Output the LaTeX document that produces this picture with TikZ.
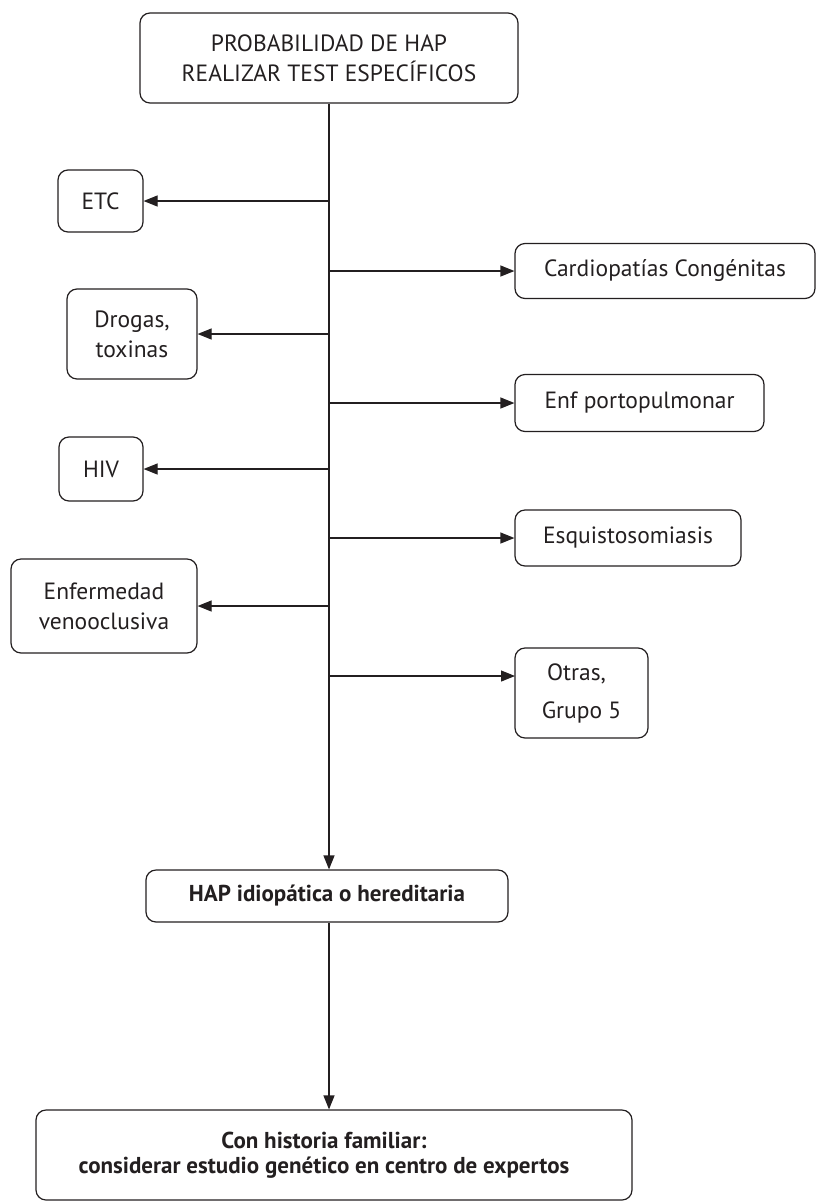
\documentclass[tikz,border=0pt]{standalone}
\usepackage{fontspec}
\setmainfont{PT Sans}
\usetikzlibrary{arrows.meta}
\definecolor{ink}{HTML}{231F20}
\begin{document}
\begin{tikzpicture}[x=1pt,y=-1pt,
  box/.style={draw=ink, line width=1.2pt, rounded corners=10pt, inner sep=0pt,
    text=ink, align=center, font=\fontsize{23.5}{30}\selectfont},
  boldbox/.style={box, font=\bfseries\fontsize{23}{25}\selectfont},
  link/.style={draw=ink, line width=1.2pt},
  arr/.style={link, -{Triangle[length=14pt,width=11pt]}}]
\useasboundingbox (0,0) rectangle (818,1203);

% header
\node[box, minimum width=378pt, minimum height=90pt] (top) at (329,58)
  {PROBABILIDAD DE HAP\\REALIZAR TEST ESPECÍFICOS};

% causes on the left
\node[box, minimum width=85pt, minimum height=62pt] (etc) at (100.5,201) {ETC};
\node[box, minimum width=130pt, minimum height=90pt] (drogas) at (132,334) {Drogas,\\toxinas};
\node[box, minimum width=84pt, minimum height=64pt] (hiv) at (101,469) {HIV};
\node[box, minimum width=186pt, minimum height=94pt] (veno) at (104,606) {Enfermedad\\venooclusiva};

% causes on the right
\node[box, minimum width=300pt, minimum height=55pt] (cardio) at (665,271) {Cardiopatías Congénitas};
\node[box, minimum width=249pt, minimum height=57pt] (porto) at (639.5,403) {Enf portopulmonar};
\node[box, minimum width=226pt, minimum height=56pt] (esq) at (628,538) {Esquistosomiasis};
\node[box, minimum width=133pt, minimum height=90pt] (otras) at (581.5,693) {\hspace*{-10pt}Otras,\\[8pt]Grupo 5};
\coordinate (otrasin) at (515,676);

% outcome
\node[boldbox, minimum width=362pt, minimum height=52pt] (idio) at (327,896) {HAP idiopática o hereditaria};
\node[boldbox, minimum width=596pt, minimum height=90pt] (final) at (334,1155)
  {Con historia familiar:\hspace*{20pt}\\considerar estudio genético en centro de expertos\hspace*{20pt}};

% main trunk and its branches
\draw[arr] (top.south) -- (top.south |- idio.north);
\draw[arr] (top.south |- etc.east) -- (etc.east);
\draw[arr] (top.south |- cardio.west) -- (cardio.west);
\draw[arr] (top.south |- drogas.east) -- (drogas.east);
\draw[arr] (top.south |- porto.west) -- (porto.west);
\draw[arr] (top.south |- hiv.east) -- (hiv.east);
\draw[arr] (top.south |- esq.west) -- (esq.west);
\draw[arr] (top.south |- veno.east) -- (veno.east);
\draw[arr] (top.south |- otrasin) -- (otrasin);

\draw[arr] (top.south |- idio.south) -- (top.south |- final.north);
\end{tikzpicture}
\end{document}
